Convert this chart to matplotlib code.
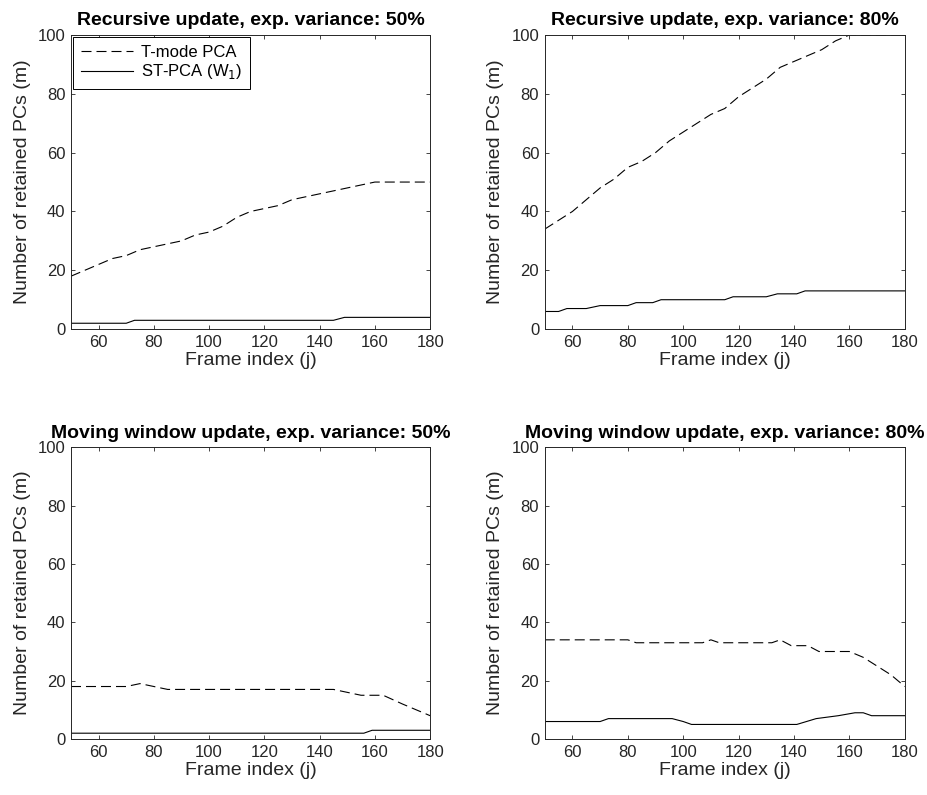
import numpy as np
import matplotlib.pyplot as plt

plt.rcParams['font.family'] = ['Liberation Sans', 'DejaVu Sans']

# recursive update, 50%
rec50_t_j = [50, 55, 60, 65, 70, 75, 80, 85, 90, 95, 100, 105, 110, 115, 120, 125, 130,
             135, 140, 145, 150, 155, 160, 165, 170, 175, 180]
rec50_t_m = [18, 20, 22, 24, 25, 27, 28, 29, 30, 32, 33, 35, 38, 40, 41, 42, 44,
             45, 46, 47, 48, 49, 50, 50, 50, 50, 50]
rec50_st_j = [50, 70, 73, 145, 149, 180]
rec50_st_m = [2, 2, 3, 3, 4, 4]

# recursive update, 80%
rec80_t_j = [50, 55, 60, 65, 70, 75, 80, 85, 90, 95, 100, 105, 110, 115, 120, 125, 130,
             135, 140, 145, 150, 155, 160, 165, 170, 175, 180]
rec80_t_m = [34, 37, 40, 44, 48, 51, 55, 57, 60, 64, 67, 70, 73, 75, 79, 82, 85,
             89, 91, 93, 95, 98, 100, 100, 100, 100, 100]
rec80_st_j = [50, 55, 58, 65, 70, 80, 83, 89, 92, 115, 118, 130, 134, 141, 144, 180]
rec80_st_m = [6, 6, 7, 7, 8, 8, 9, 9, 10, 10, 11, 11, 12, 12, 13, 13]

# moving window, 50%
mw50_t_j = [50, 70, 75, 80, 85, 145, 150, 155, 163, 170, 175, 180]
mw50_t_m = [18, 18, 19, 18, 17, 17, 16, 15, 15, 12, 10, 8]
mw50_st_j = [50, 156, 159, 180]
mw50_st_m = [2, 2, 3, 3]

# moving window, 80%
mw80_t_j = [50, 80, 83, 107, 110, 113, 132, 135, 139, 145, 149, 160, 165, 170, 175, 180]
mw80_t_m = [34, 34, 33, 33, 34, 33, 33, 34, 32, 32, 30, 30, 28, 25, 22, 18]
mw80_st_j = [50, 70, 73, 96, 100, 103, 141, 148, 156, 162, 165, 168, 180]
mw80_st_m = [6, 6, 7, 7, 6, 5, 5, 7, 8, 9, 9, 8, 8]

titles = ['Recursive update, exp. variance: 50%',
          'Recursive update, exp. variance: 80%',
          'Moving window update, exp. variance: 50%',
          'Moving window update, exp. variance: 80%']
panels = [(rec50_t_j, rec50_t_m, rec50_st_j, rec50_st_m),
          (rec80_t_j, rec80_t_m, rec80_st_j, rec80_st_m),
          (mw50_t_j, mw50_t_m, mw50_st_j, mw50_st_m),
          (mw80_t_j, mw80_t_m, mw80_st_j, mw80_st_m)]

fig = plt.figure(figsize=(9.28, 7.95), dpi=100)
boxes = [[0.0765, 0.586, 0.387, 0.370],
         [0.587, 0.586, 0.388, 0.370],
         [0.0765, 0.0704, 0.387, 0.367],
         [0.587, 0.0704, 0.388, 0.367]]
grey = '#262626'

for i, (box, ttl, (tj, tm, sj, sm)) in enumerate(zip(boxes, titles, panels)):
    ax = fig.add_axes(box)
    ax.plot(tj, tm, color='black', lw=0.8, dashes=(9, 4.5), label='T-mode PCA')
    ax.plot(sj, sm, color='black', lw=0.8, label='ST-PCA (W$_1$)')
    ax.set_xlim(50, 180)
    ax.set_ylim(0, 100)
    ax.set_xticks(np.arange(60, 181, 20))
    ax.set_yticks(np.arange(0, 101, 20))
    ax.tick_params(direction='in', top=True, right=True, length=3, width=0.6,
                   labelsize=12, colors=grey, labelcolor=grey, pad=4)
    for s in ax.spines.values():
        s.set_color(grey)
        s.set_linewidth(0.7)
    ax.set_title(ttl, fontsize=14, fontweight='bold', pad=7)
    ax.set_xlabel('Frame index (j)', fontsize=14, color=grey, labelpad=2)
    ax.set_ylabel('Number of retained PCs (m)', fontsize=14, color=grey, labelpad=5)
    if i == 0:
        leg = ax.legend(loc='upper left', fontsize=12, fancybox=False, framealpha=1,
                        edgecolor='black', handlelength=3.1, handletextpad=0.5,
                        borderaxespad=0.15, borderpad=0.45, labelspacing=0.15)
        leg.get_frame().set_linewidth(0.7)

fig.savefig('out.png', dpi=100)
